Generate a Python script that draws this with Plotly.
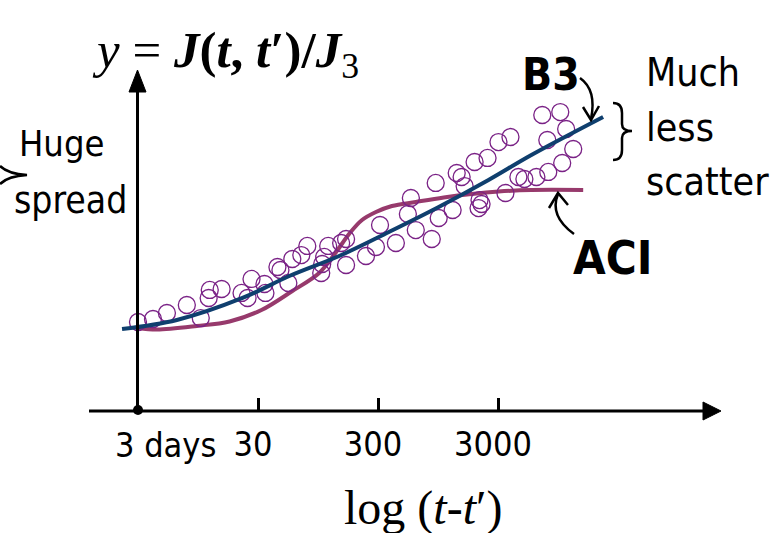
import numpy as np
import plotly.graph_objects as go

# ---------------- data (x = log10(t - t') in days, y = J(t,t')/J3) ----------------
tick_days = [3, 30, 300, 3000]
tick_labels = ["3 days", "30", "300", "3000"]

data_logt = [0.477, 0.602, 0.718, 0.884, 1.000, 1.066, 1.075, 1.174, 1.340, 1.390,
             1.423, 1.531, 1.539, 1.639, 1.664, 1.730, 1.763, 1.838, 1.888, 2.012,
             2.004, 2.029, 2.062, 2.170, 2.211, 2.211, 2.377, 2.460, 2.494, 2.626,
             2.726, 2.751, 2.792, 2.925, 2.958, 2.983, 3.099, 3.133, 3.174, 3.199,
             3.282, 3.390, 3.323, 3.340, 3.315, 3.481, 3.581, 3.539, 3.647, 3.697,
             3.797, 3.896, 4.012, 4.104, 3.888, 4.045, 3.846, 3.996]
data_y = [1.000, 1.034, 1.102, 1.193, 1.045, 1.273, 1.364, 1.375, 1.330, 1.273,
          1.489, 1.432, 1.330, 1.625, 1.591, 1.443, 1.716, 1.761, 1.864, 1.659,
          1.557, 1.739, 1.864, 1.898, 1.943, 1.648, 1.750, 1.852, 2.102, 1.898,
          2.227, 2.409, 2.045, 1.943, 2.580, 2.182, 2.273, 2.693, 2.648, 2.545,
          2.818, 2.864, 2.386, 2.341, 2.295, 3.045, 3.102, 2.466, 2.648, 2.625,
          2.648, 2.705, 2.807, 2.966, 3.068, 3.193, 3.352, 3.386]

b3_logt = [0.344, 0.801, 1.348, 1.738, 2.153, 2.568, 2.983, 3.398, 3.755, 4.353]
b3_y = [0.920, 1.023, 1.273, 1.523, 1.750, 2.023, 2.307, 2.614, 2.898, 3.330]

aci_logt = [0.477, 0.635, 0.967, 1.240, 1.506, 1.763, 1.987, 2.128, 2.236, 2.344,
            2.460, 2.593, 2.792, 3.025, 3.257, 3.481, 3.755, 4.187]
aci_y = [0.932, 0.915, 0.955, 1.006, 1.136, 1.352, 1.557, 1.795, 2.000, 2.159,
         2.250, 2.318, 2.364, 2.415, 2.455, 2.483, 2.500, 2.500]

# ---------------- layout geometry ----------------
W, H = 776, 533
ORIG_PX, ORIG_PY = 138, 410          # pixel position of (log10(3), 0)
PX_DEC, PX_UNIT = 120.0, 88.0        # pixels per decade / per y unit
L3 = float(np.log10(3))
x_range = [L3 - ORIG_PX / PX_DEC, L3 + (W - ORIG_PX) / PX_DEC]
y_range = [-(H - ORIG_PY) / PX_UNIT, ORIG_PY / PX_UNIT]


def X(px):
    return L3 + (px - ORIG_PX) / PX_DEC


def Y(py):
    return (ORIG_PY - py) / PX_UNIT


def path(cmds):
    out = []
    for c in cmds:
        if isinstance(c, str):
            out.append(c)
        else:
            out.append(f"{X(c[0]):.5f},{Y(c[1]):.5f}")
    return " ".join(out)


NARROW = "Liberation Sans Narrow, Arial Narrow, DejaVu Sans Condensed, sans-serif"
SERIF = "Liberation Serif, Times New Roman, serif"
C_B3 = "#0f3f6e"
C_ACI = "#973a6c"
C_PT = "#7a2286"

fig = go.Figure()

fig.add_trace(go.Scatter(x=aci_logt, y=aci_y, mode="lines",
                         line=dict(color=C_ACI, width=4, shape="spline", smoothing=1.0),
                         hoverinfo="skip", showlegend=False))
fig.add_trace(go.Scatter(x=data_logt, y=data_y, mode="markers",
                         marker=dict(symbol="circle-open", size=17,
                                     line=dict(color=C_PT, width=1.3), color=C_PT),
                         showlegend=False))
fig.add_trace(go.Scatter(x=b3_logt, y=b3_y, mode="lines",
                         line=dict(color=C_B3, width=4, shape="spline", smoothing=1.0),
                         hoverinfo="skip", showlegend=False))
# origin dot at 3 days
fig.add_trace(go.Scatter(x=[np.log10(tick_days[0])], y=[0], mode="markers",
                         marker=dict(color="black", size=10), showlegend=False))

shapes = []
# x axis with arrow
shapes.append(dict(type="line", x0=X(89), y0=Y(411), x1=X(706), y1=Y(411),
                   line=dict(color="black", width=3)))
shapes.append(dict(type="path", path=path(["M", (721, 411), "L", (703, 402), "L", (703, 420), "Z"]),
                   fillcolor="black", line=dict(color="black", width=1)))
# y axis with arrow
shapes.append(dict(type="line", x0=X(137.5), y0=Y(411), x1=X(137.5), y1=Y(88),
                   line=dict(color="black", width=3)))
shapes.append(dict(type="path", path=path(["M", (137.5, 70), "L", (129, 92), "L", (146, 92), "Z"]),
                   fillcolor="black", line=dict(color="black", width=1)))
# brace right of data
shapes.append(dict(type="path",
                   path=path(["M", (613, 103), "Q", (622, 103), (622, 113), "L", (622, 124),
                              "Q", (622, 131), (632, 131), "Q", (622, 131), (622, 138),
                              "L", (622, 150), "Q", (622, 160), (613, 160)]),
                   line=dict(color="black", width=2.5)))
# brace tip at the left edge
shapes.append(dict(type="path",
                   path=path(["M", (0, 166), "Q", (8, 174), (27, 175), "Q", (8, 176), (0, 184)]),
                   line=dict(color="black", width=2.5)))
# B3 arrow
shapes.append(dict(type="path", path=path(["M", (580, 78), "Q", (597, 90), (591, 119)]),
                   line=dict(color="black", width=2.5)))
shapes.append(dict(type="path", path=path(["M", (583, 107), "L", (591, 120), "L", (599, 106)]),
                   line=dict(color="black", width=2.5)))
# ACI arrow
shapes.append(dict(type="path", path=path(["M", (574, 234), "Q", (549, 216), (558, 194)]),
                   line=dict(color="black", width=2.5)))
shapes.append(dict(type="path", path=path(["M", (549, 208), "L", (558, 193), "L", (568, 205)]),
                   line=dict(color="black", width=2.5)))

ann = []


def txt(text, px, py, size, family=NARROW, xanchor="left", color="black"):
    ann.append(dict(text=text, x=X(px), y=Y(py), xref="x", yref="y", showarrow=False,
                    xanchor=xanchor, yanchor="middle", align=xanchor if xanchor != "center" else "center",
                    font=dict(size=size, family=family, color=color)))


txt("<i>y</i> = <b><i>J</i>(<i>t</i>, <i>t</i>′)/<i>J</i></b><sub>3</sub>", 90, 54, 51, SERIF)
txt("log (<i>t</i>-<i>t</i>′)", 423, 508, 48, SERIF, "center")
txt("Huge", 17, 143, 36)
txt("spread", 12, 200, 37)
txt("<b>B3</b>", 551, 74, 44, xanchor="center")
txt("Much", 644, 72, 39)
txt("less", 644, 127, 39)
txt("scatter", 644, 181, 39)
txt("<b>ACI</b>", 612, 257, 47, xanchor="center")
# the "3 days" label of the first tick
ann.append(dict(text=tick_labels[0], x=np.log10(tick_days[0]), y=Y(445), xref="x", yref="y",
                showarrow=False, xanchor="left", yanchor="middle", xshift=-25,
                font=dict(size=34, family=NARROW, color="black")))

fig.update_layout(
    width=W, height=H, margin=dict(l=0, r=0, t=0, b=0, pad=0),
    paper_bgcolor="white", plot_bgcolor="white",
    shapes=shapes, annotations=ann, showlegend=False,
    xaxis=dict(range=x_range, showgrid=False, zeroline=False, showline=False,
               tickmode="array", tickvals=list(np.log10(tick_days[1:])), ticktext=tick_labels[1:],
               ticks="inside", ticklen=13, tickwidth=2.5, tickcolor="black",
               tickfont=dict(size=34, family=NARROW, color="black"),
               ticklabelstandoff=10, ticklabelshift=-5,
               anchor="free", position=(H - 411) / H, fixedrange=True),
    yaxis=dict(range=y_range, visible=False, showgrid=False, zeroline=False, fixedrange=True),
)

fig.write_html("out.html", config={"displayModeBar": False},
               post_script="document.body.style.margin='0';")
